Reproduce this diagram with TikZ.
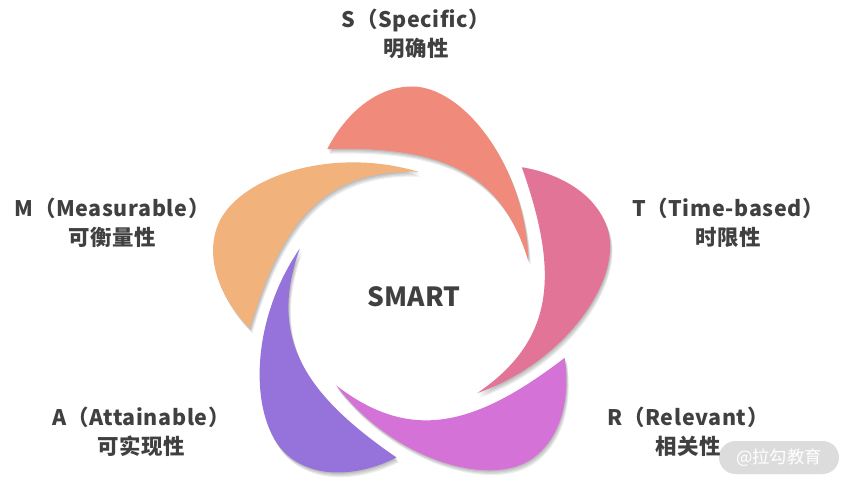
\documentclass[tikz,border=0pt]{standalone}
\usepackage{fontspec}
\setmainfont{Noto Sans CJK SC}
\newfontfamily\wmfont{Noto Sans CJK SC}
\usetikzlibrary{calc}
\definecolor{cS}{HTML}{F08A7A}
\definecolor{cT}{HTML}{E27497}
\definecolor{cR}{HTML}{D472D8}
\definecolor{cA}{HTML}{9673DA}
\definecolor{cM}{HTML}{F2B27B}
\definecolor{txt}{HTML}{404040}
\definecolor{wm}{HTML}{DCDCDC}
\def\petalpath{(-84.7,143) .. controls (-70,172) and (-40,205.5) .. (0,205.5) .. controls (52,205.5) and (114,125) .. (116.3,31) .. controls (90,120) and (30,146) .. (-84.7,143) -- cycle}
\tikzset{
  lbl/.style={align=center, text=txt, font=\bfseries\fontsize{18.3pt}{24.8pt}\selectfont\addfontfeatures{LetterSpace=3}, inner sep=0pt},
  petalshadow/.style={fill=black, opacity=0.07},
}
\begin{document}
\begin{tikzpicture}[x=0.03cm, y=-0.03cm]
\useasboundingbox (0,0) rectangle (850,486);
\fill[white] (0,0) rectangle (850,486);
\foreach \ang/\col in {0/cS, 72/cT, 144/cR, 216/cA, 288/cM} {
  \begin{scope}[shift={(412,292)}]
    \foreach \sx/\sy in {0.6/1.2, 1.2/2.4, 1.8/3.6, 2.4/4.8} {
      \begin{scope}[shift={(\sx,\sy)}, yscale=-1, rotate=\ang]
        \fill[petalshadow] \petalpath;
      \end{scope}
    }
    \begin{scope}[yscale=-1, rotate=\ang]
      \fill[\col] \petalpath;
    \end{scope}
  \end{scope}
}
\node[text=txt, font=\bfseries\fontsize{22.5pt}{26pt}\selectfont, inner sep=0pt] (smart) at (414,297) {SMART};
\node[lbl] (s) at (416,34) {S（Specific）\\明确性};
\node[lbl] (m) at (112,223) {M（Measurable）\\可衡量性};
\node[lbl] (t) at (728,223) {T（Time-based）\\时限性};
\node[lbl] (a) at (141,432) {A（Attainable）\\可实现性};
\node[fill=wm, rounded corners=16.5*0.03cm, minimum width=120*0.03cm, minimum height=33*0.03cm, inner sep=0pt, text=white, font=\wmfont\fontsize{14.8pt}{16pt}\selectfont] (wmark) at (779,457.5) {@拉勾教育};
\node[lbl] (r) at (688,432) {R（Relevant）\\相关性};
\end{tikzpicture}
\end{document}
